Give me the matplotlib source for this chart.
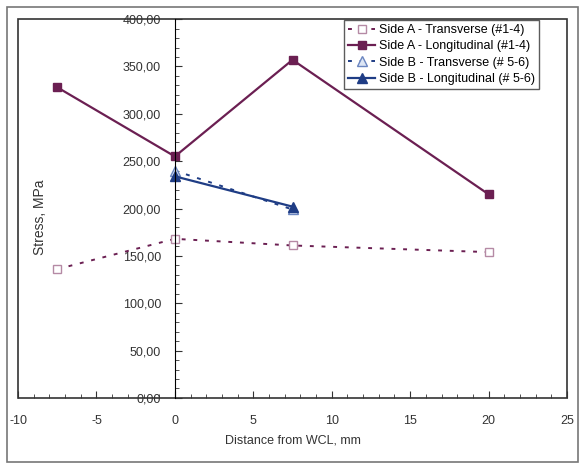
import matplotlib
matplotlib.use("Agg")
import matplotlib.pyplot as plt
from matplotlib.patches import Rectangle
from matplotlib.ticker import MultipleLocator, FuncFormatter

plt.rcParams['font.family'] = ['Liberation Sans', 'DejaVu Sans']
plt.rcParams['axes.unicode_minus'] = False

# measured stresses, MPa
xa = [-7.5, 0, 7.5, 20]
side_a_trans = [136, 168, 161, 154]
side_a_long = [328, 255, 357, 215]

xb = [0, 7.5]
side_b_trans = [240, 199]
side_b_long = [234, 202]

purple = '#6b1f52'
blue = '#1f3d85'

fig = plt.figure(figsize=(5.81, 4.66), dpi=100)
fig.patches.append(Rectangle((0.012, 0.008), 0.983, 0.978, transform=fig.transFigure,
                             fill=False, edgecolor='#777777', linewidth=1.2))
ax = fig.add_axes([0.031, 0.146, 0.945, 0.813])

ax.plot(xa, side_a_trans, linestyle=(0, (2, 4)), color=purple, lw=1.4,
        marker='s', ms=6, mfc='white', mec='#b58aa5', label='Side A - Transverse (#1-4)')
ax.plot(xa, side_a_long, '-', color=purple, lw=1.6,
        marker='s', ms=6, label='Side A - Longitudinal (#1-4)')
ax.plot(xb, side_b_trans, linestyle=(0, (2, 4)), color=blue, lw=1.4,
        marker='^', ms=7, mfc='#dde6f5', mec='#6a85c0', label='Side B - Transverse (# 5-6)')
ax.plot(xb, side_b_long, '-', color=blue, lw=1.6,
        marker='^', ms=7, label='Side B - Longitudinal (# 5-6)')

ax.set_xlim(-10, 25)
ax.set_ylim(0, 400)

# y axis crosses at x = 0, plot area keeps its own frame
ax.spines['left'].set_position(('data', 0))
for s in ['top', 'right', 'bottom']:
    ax.spines[s].set_visible(False)
ax.add_patch(Rectangle((0, 0), 1, 1, transform=ax.transAxes, fill=False,
                       edgecolor='#333333', lw=1.2, clip_on=False))

ax.xaxis.set_major_locator(MultipleLocator(5))
ax.xaxis.set_minor_locator(MultipleLocator(1))
ax.yaxis.set_major_locator(MultipleLocator(50))
ax.yaxis.set_minor_locator(MultipleLocator(10))
ax.yaxis.set_major_formatter(FuncFormatter(lambda v, p: f'{v:.2f}'.replace('.', ',')))

ax.tick_params(axis='x', which='both', direction='in', colors='#333333',
               labelcolor='#333333', labelsize=9, pad=12)
ax.tick_params(axis='x', which='major', length=5)
ax.tick_params(axis='x', which='minor', length=3)
ax.tick_params(axis='y', which='both', direction='in', colors='#333333',
               labelcolor='#333333', labelsize=9, pad=10)
ax.tick_params(axis='y', which='major', length=5)
ax.tick_params(axis='y', which='minor', length=3)

ax.set_xlabel('Distance from WCL, mm', fontsize=9, color='#333333', labelpad=6)
fig.text(0.069, 0.534, 'Stress, MPa', rotation=90, fontsize=10, color='#333333',
         ha='center', va='center')

leg = ax.legend(loc='upper right', bbox_to_anchor=(0.951, 1.0), borderaxespad=0.1,
                fontsize=9, frameon=True, fancybox=False, edgecolor='#333333',
                handlelength=2.2, handletextpad=0.3, borderpad=0.3, labelspacing=0.35)
leg.get_frame().set_linewidth(1.0)

fig.savefig('out.png', dpi=100)
